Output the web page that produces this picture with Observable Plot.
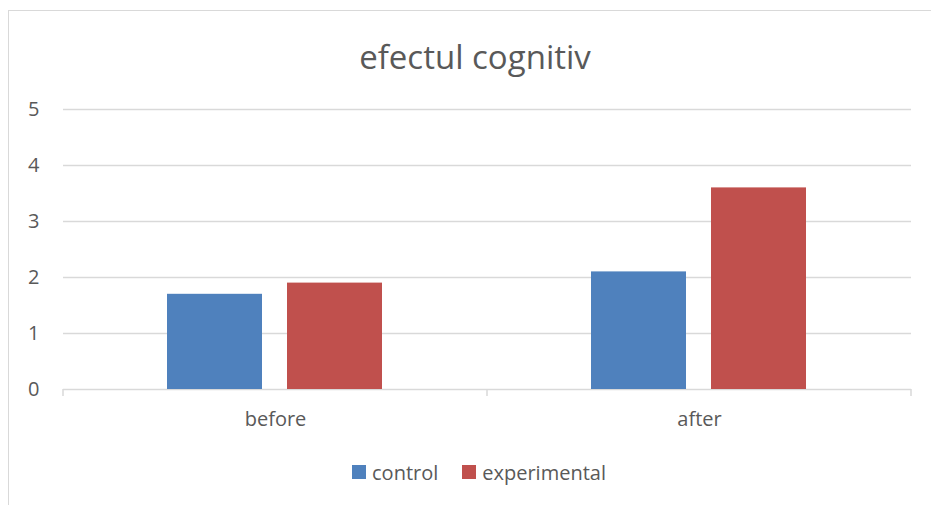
<!DOCTYPE html>
<html>
<head>
<meta charset="utf-8">
<script src="https://cdn.jsdelivr.net/npm/d3@7"></script>
<script src="https://cdn.jsdelivr.net/npm/@observablehq/plot@0.6"></script>
<style>
  html, body { margin: 0; padding: 0; width: 931px; height: 505px; overflow: hidden; background: #fff; }
  #frame { position: absolute; left: 8px; top: 10px; width: 1000px; height: 600px; border: 1px solid #D9D9D9; box-sizing: border-box; }
  #title { position: absolute; left: 0; top: 40px; width: 950px; text-align: center; font-family: "Open Sans", sans-serif; font-size: 33px; line-height: 1; color: #595959; }
  #chart { position: absolute; left: 0; top: 80px; }
  #legend { position: absolute; left: 0; top: 462px; width: 958px; height: 20px; display: flex; justify-content: center; align-items: center; font-family: "Open Sans", sans-serif; font-size: 20px; color: #595959; }
  .item { display: flex; align-items: center; margin: 0 12px; }
  .sw { width: 14px; height: 14px; margin-right: 6px; }
</style>
</head>
<body>
<div id="frame"></div>
<div id="title">efectul cognitiv</div>
<div id="chart"></div>
<div id="legend"></div>
<script>
const categories = ["before", "after"];
const seriesNames = ["control", "experimental"];
const controlValues = [1.7, 2.1];
const experimentalValues = [1.9, 3.6];
const yTicks = [0, 1, 2, 3, 4, 5];
const colors = ["#4F81BD", "#C0504D"];

const data = categories.flatMap((c, i) => [
  {category: c, series: seriesNames[0], value: controlValues[i]},
  {category: c, series: seriesNames[1], value: experimentalValues[i]}
]);

const chart = Plot.plot({
  width: 931,
  height: 360,
  marginTop: 29,
  marginBottom: 51,
  marginLeft: 62,
  marginRight: 20,
  style: {fontFamily: "'Open Sans', sans-serif", fontSize: "20px", color: "#595959", background: "transparent"},
  fx: {domain: categories, padding: 0, label: null, tickSize: 0, tickPadding: 22, axis: "bottom"},
  x: {domain: seriesNames, paddingInner: 0.2066, paddingOuter: 0.8595, axis: null},
  y: {domain: [0, 5], ticks: yTicks, tickFormat: "d", label: null, tickSize: 0, tickPadding: 24},
  color: {domain: seriesNames, range: colors},
  marks: [
    Plot.gridY(yTicks, {stroke: "#D9D9D9", strokeOpacity: 1, strokeWidth: 1.5}),
    Plot.barY(data, {fx: "category", x: "series", y: "value", fill: "series"})
  ]
});
document.getElementById("chart").appendChild(chart);

// category boundary tick marks, placed from the library's scales
const fx = chart.scale("fx");
const y = chart.scale("y");
const y0 = y.apply(0);
const bounds = categories.map(c => fx.apply(c));
bounds.push(fx.apply(categories[categories.length - 1]) + fx.bandwidth);
d3.select(chart).append("g")
  .selectAll("line").data(bounds).join("line")
  .attr("x1", d => d).attr("x2", d => d)
  .attr("y1", y0).attr("y2", y0 + 7)
  .attr("stroke", "#D9D9D9").attr("stroke-width", 1.5);

// legend
const legend = d3.select("#legend");
seriesNames.forEach((s, i) => {
  const it = legend.append("div").attr("class", "item");
  it.append("div").attr("class", "sw").style("background", colors[i]);
  it.append("span").text(s);
});
</script>
</body>
</html>
